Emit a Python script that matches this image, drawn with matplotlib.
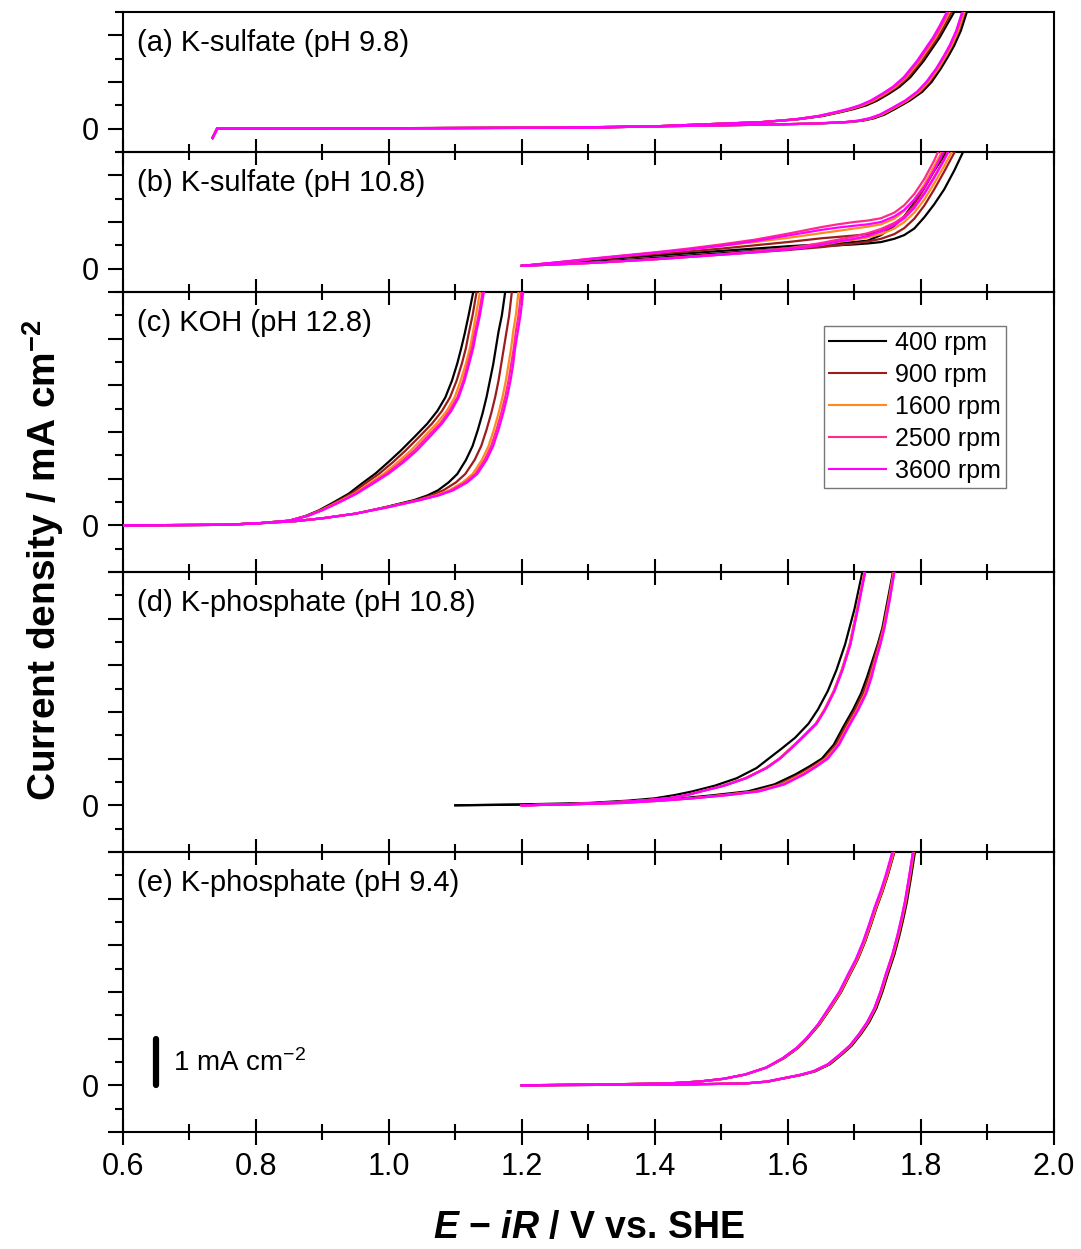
import matplotlib
matplotlib.use("Agg")
import matplotlib.pyplot as plt
from matplotlib.ticker import MultipleLocator, FuncFormatter

plt.rcParams['font.family'] = ['Liberation Sans', 'DejaVu Sans']
plt.rcParams['mathtext.fontset'] = 'custom'
plt.rcParams['mathtext.default'] = 'regular'
plt.rcParams['mathtext.it'] = 'Liberation Sans:italic:bold'

rpm = [400, 900, 1600, 2500, 3600]
colors = ['#000000', '#9b1c1c', '#ff8a1e', '#ff2a8a', '#ff00ff']

titles = ['(a) K-sulfate (pH 9.8)', '(b) K-sulfate (pH 10.8)', '(c) KOH (pH 12.8)',
          '(d) K-phosphate (pH 10.8)', '(e) K-phosphate (pH 9.4)']
ylims = [(-0.5, 2.5), (-0.5, 2.5), (-1, 5), (-1, 5), (-1, 5)]

# Sweep branches. Rows are rotation rates in rpm order (400 ... 3600).
# Panels a, c, d, e: shared current levels j (mA cm-2), potential E (V) per rate.
# Panel b: shared potential grid, current per rate.

# (a) K-sulfate, pH 9.8
a_left_j = [-0.2, 0.0, 0.02, 0.05, 0.09, 0.14, 0.2, 0.27, 0.35, 0.42, 0.5, 0.6,
            0.75, 0.9, 1.1, 1.45, 1.7, 1.95, 2.2, 2.5]
a_left_E = [
    [0.735, 0.742, 1.30, 1.40, 1.47, 1.562, 1.615, 1.652, 1.678, 1.699, 1.718, 1.734,
     1.752, 1.768, 1.784, 1.804, 1.816, 1.828, 1.838, 1.850],
    [0.735, 0.742, 1.30, 1.40, 1.47, 1.561, 1.613, 1.650, 1.676, 1.696, 1.714, 1.731,
     1.749, 1.765, 1.781, 1.801, 1.813, 1.825, 1.835, 1.846],
    [0.735, 0.742, 1.30, 1.40, 1.47, 1.560, 1.612, 1.648, 1.674, 1.694, 1.712, 1.728,
     1.746, 1.762, 1.778, 1.798, 1.810, 1.822, 1.832, 1.843],
    [0.735, 0.742, 1.30, 1.40, 1.47, 1.560, 1.611, 1.646, 1.672, 1.692, 1.710, 1.726,
     1.744, 1.760, 1.776, 1.796, 1.808, 1.820, 1.830, 1.841],
    [0.735, 0.742, 1.30, 1.40, 1.47, 1.560, 1.610, 1.645, 1.670, 1.690, 1.708, 1.724,
     1.742, 1.758, 1.774, 1.794, 1.806, 1.818, 1.828, 1.839],
]
a_right_j = [-0.2, 0.0, 0.02, 0.06, 0.09, 0.11, 0.14, 0.17, 0.22, 0.3, 0.43, 0.6,
             0.79, 1.0, 1.29, 1.55, 1.78, 2.1, 2.5]
a_right_E = [
    [0.735, 0.742, 1.25, 1.45, 1.58, 1.645, 1.690, 1.712, 1.729, 1.745, 1.762, 1.783,
     1.802, 1.816, 1.830, 1.841, 1.850, 1.860, 1.869],
    [0.735, 0.742, 1.25, 1.45, 1.58, 1.643, 1.688, 1.709, 1.726, 1.742, 1.759, 1.780,
     1.799, 1.813, 1.827, 1.838, 1.847, 1.857, 1.866],
    [0.735, 0.742, 1.25, 1.45, 1.58, 1.642, 1.687, 1.708, 1.725, 1.741, 1.758, 1.779,
     1.797, 1.811, 1.826, 1.837, 1.846, 1.856, 1.865],
    [0.735, 0.742, 1.25, 1.45, 1.58, 1.641, 1.686, 1.706, 1.723, 1.739, 1.756, 1.777,
     1.795, 1.809, 1.824, 1.835, 1.844, 1.854, 1.863],
    [0.735, 0.742, 1.25, 1.45, 1.58, 1.640, 1.685, 1.705, 1.722, 1.738, 1.755, 1.776,
     1.794, 1.808, 1.823, 1.834, 1.843, 1.853, 1.862],
]

# (b) K-sulfate, pH 10.8
b_E = [1.20, 1.25, 1.30, 1.35, 1.40, 1.45, 1.50, 1.55, 1.60, 1.625, 1.65, 1.675,
       1.70, 1.72, 1.74, 1.76, 1.775, 1.79, 1.805, 1.82, 1.835, 1.85, 1.865]
b_left_j = [
    [0.06, 0.12, 0.18, 0.23, 0.28, 0.33, 0.38, 0.43, 0.48, 0.50, 0.52, 0.55,
     0.57, 0.60, 0.72, 0.92, 1.12, 1.42, 1.75, 2.10, 2.42, 2.80, 3.20],
    [0.06, 0.12, 0.19, 0.25, 0.31, 0.37, 0.43, 0.50, 0.57, 0.61, 0.65, 0.68,
     0.71, 0.74, 0.80, 0.95, 1.12, 1.38, 1.72, 2.10, 2.50, 2.90, 3.30],
    [0.06, 0.13, 0.20, 0.27, 0.34, 0.41, 0.49, 0.57, 0.66, 0.71, 0.76, 0.81,
     0.86, 0.90, 0.95, 1.07, 1.24, 1.48, 1.80, 2.20, 2.60, 3.00, 3.50],
    [0.06, 0.13, 0.21, 0.28, 0.35, 0.43, 0.52, 0.62, 0.75, 0.82, 0.89, 0.95,
     1.00, 1.03, 1.08, 1.20, 1.36, 1.60, 1.92, 2.32, 2.80, 3.30, 3.80],
    [0.06, 0.13, 0.20, 0.27, 0.34, 0.41, 0.49, 0.59, 0.71, 0.77, 0.83, 0.88,
     0.92, 0.95, 1.00, 1.12, 1.26, 1.48, 1.75, 2.12, 2.55, 3.10, 3.60],
]
b_right_j = [
    [0.06, 0.10, 0.14, 0.18, 0.23, 0.28, 0.33, 0.38, 0.43, 0.46, 0.48, 0.50,
     0.52, 0.54, 0.57, 0.64, 0.72, 0.86, 1.10, 1.38, 1.70, 2.10, 2.55],
    [0.06, 0.09, 0.12, 0.16, 0.20, 0.25, 0.30, 0.35, 0.40, 0.43, 0.46, 0.50,
     0.54, 0.58, 0.64, 0.74, 0.87, 1.07, 1.35, 1.70, 2.08, 2.48, 2.90],
    [0.06, 0.09, 0.12, 0.16, 0.20, 0.25, 0.30, 0.36, 0.42, 0.46, 0.51, 0.57,
     0.62, 0.67, 0.74, 0.86, 1.00, 1.20, 1.48, 1.83, 2.20, 2.60, 3.05],
    [0.06, 0.09, 0.12, 0.16, 0.21, 0.26, 0.31, 0.37, 0.44, 0.49, 0.55, 0.62,
     0.69, 0.76, 0.85, 0.98, 1.12, 1.33, 1.62, 1.97, 2.35, 2.78, 3.20],
    [0.06, 0.09, 0.12, 0.16, 0.20, 0.25, 0.30, 0.35, 0.41, 0.45, 0.51, 0.58,
     0.64, 0.70, 0.80, 0.93, 1.08, 1.30, 1.60, 1.95, 2.33, 2.75, 3.20],
]

# (c) KOH, pH 12.8
c_left_j = [0, 0.01, 0.04, 0.1, 0.2, 0.32, 0.5, 0.68, 0.9, 1.11, 1.35, 1.6, 1.9,
            2.18, 2.45, 2.74, 3.1, 3.47, 3.8, 4.1, 4.5, 5.0]
c_left_E = [
    [0.6, 0.75, 0.8, 0.850, 0.875, 0.895, 0.918, 0.940, 0.960, 0.980, 0.999, 1.018,
     1.039, 1.058, 1.073, 1.085, 1.095, 1.103, 1.109, 1.114, 1.120, 1.127],
    [0.6, 0.75, 0.8, 0.851, 0.876, 0.897, 0.921, 0.944, 0.965, 0.986, 1.006, 1.025,
     1.046, 1.065, 1.080, 1.092, 1.102, 1.110, 1.116, 1.120, 1.126, 1.132],
    [0.6, 0.75, 0.8, 0.851, 0.877, 0.898, 0.924, 0.948, 0.971, 0.993, 1.013, 1.033,
     1.053, 1.072, 1.087, 1.099, 1.108, 1.116, 1.122, 1.126, 1.131, 1.137],
    [0.6, 0.75, 0.8, 0.851, 0.878, 0.899, 0.926, 0.950, 0.974, 0.997, 1.018, 1.038,
     1.058, 1.077, 1.091, 1.103, 1.112, 1.119, 1.125, 1.129, 1.135, 1.141],
    [0.6, 0.75, 0.8, 0.851, 0.878, 0.900, 0.927, 0.952, 0.977, 1.000, 1.022, 1.042,
     1.062, 1.080, 1.094, 1.105, 1.114, 1.121, 1.127, 1.131, 1.137, 1.143],
]
c_right_j = [0, 0.01, 0.04, 0.09, 0.15, 0.25, 0.39, 0.54, 0.64, 0.75, 0.92, 1.1,
             1.4, 1.7, 2.05, 2.4, 2.75, 3.1, 3.45, 3.8, 4.15, 4.5, 5.0]
c_right_E = [
    [0.6, 0.75, 0.8, 0.86, 0.9, 0.95, 0.995, 1.038, 1.058, 1.074, 1.090, 1.103,
     1.116, 1.126, 1.134, 1.141, 1.147, 1.152, 1.157, 1.161, 1.165, 1.170, 1.175],
    [0.6, 0.75, 0.8, 0.86, 0.9, 0.95, 0.997, 1.042, 1.064, 1.082, 1.101, 1.115,
     1.129, 1.139, 1.147, 1.154, 1.160, 1.165, 1.169, 1.173, 1.177, 1.181, 1.185],
    [0.6, 0.75, 0.8, 0.86, 0.9, 0.95, 0.998, 1.045, 1.070, 1.091, 1.111, 1.126,
     1.140, 1.150, 1.158, 1.165, 1.171, 1.176, 1.180, 1.184, 1.187, 1.191, 1.195],
    [0.6, 0.75, 0.8, 0.86, 0.9, 0.95, 0.999, 1.046, 1.073, 1.094, 1.115, 1.130,
     1.144, 1.154, 1.162, 1.169, 1.175, 1.180, 1.184, 1.188, 1.191, 1.195, 1.199],
    [0.6, 0.75, 0.8, 0.86, 0.9, 0.95, 1.000, 1.047, 1.075, 1.097, 1.118, 1.133,
     1.147, 1.157, 1.165, 1.172, 1.178, 1.183, 1.187, 1.190, 1.194, 1.198, 1.202],
]

# (d) K-phosphate, pH 10.8
d_left_j = [0, 0.02, 0.05, 0.1, 0.15, 0.22, 0.3, 0.42, 0.58, 0.8, 1.0, 1.22, 1.45,
            1.75, 2.05, 2.45, 2.9, 3.45, 4.2, 5.0]
d_left_E = [
    [1.1, 1.20, 1.30, 1.36, 1.40, 1.43, 1.457, 1.490, 1.523, 1.553, 1.571, 1.591,
     1.611, 1.631, 1.645, 1.660, 1.673, 1.686, 1.700, 1.712],
    [1.2, 1.26, 1.32, 1.38, 1.42, 1.448, 1.469, 1.503, 1.536, 1.567, 1.587, 1.604,
     1.621, 1.642, 1.655, 1.669, 1.681, 1.693, 1.704, 1.716],
    [1.2, 1.26, 1.32, 1.38, 1.42, 1.448, 1.469, 1.503, 1.536, 1.567, 1.587, 1.604,
     1.621, 1.642, 1.655, 1.669, 1.681, 1.693, 1.704, 1.715],
    [1.2, 1.26, 1.32, 1.38, 1.42, 1.448, 1.470, 1.504, 1.537, 1.568, 1.588, 1.605,
     1.622, 1.643, 1.656, 1.670, 1.682, 1.694, 1.705, 1.716],
    [1.2, 1.26, 1.32, 1.38, 1.42, 1.448, 1.470, 1.504, 1.537, 1.568, 1.588, 1.605,
     1.622, 1.643, 1.656, 1.670, 1.682, 1.694, 1.705, 1.716],
]
d_right_j = [0, 0.02, 0.05, 0.1, 0.15, 0.22, 0.3, 0.45, 0.66, 0.83, 1.0, 1.3, 1.7,
             2.05, 2.4, 2.75, 3.1, 3.45, 3.8, 4.4, 5.0]
d_right_E = [
    [1.1, 1.25, 1.33, 1.39, 1.44, 1.49, 1.540, 1.580, 1.611, 1.632, 1.651, 1.669,
     1.684, 1.698, 1.710, 1.719, 1.727, 1.735, 1.742, 1.750, 1.758],
    [1.2, 1.27, 1.34, 1.40, 1.45, 1.50, 1.550, 1.588, 1.617, 1.637, 1.655, 1.672,
     1.687, 1.701, 1.713, 1.722, 1.729, 1.736, 1.743, 1.751, 1.759],
    [1.2, 1.27, 1.35, 1.41, 1.455, 1.505, 1.553, 1.591, 1.620, 1.640, 1.657, 1.675,
     1.690, 1.704, 1.716, 1.724, 1.731, 1.738, 1.744, 1.752, 1.759],
    [1.2, 1.27, 1.35, 1.41, 1.457, 1.51, 1.556, 1.594, 1.623, 1.642, 1.659, 1.676,
     1.691, 1.705, 1.717, 1.725, 1.732, 1.739, 1.745, 1.753, 1.760],
    [1.2, 1.27, 1.35, 1.41, 1.457, 1.51, 1.557, 1.595, 1.624, 1.643, 1.660, 1.677,
     1.692, 1.706, 1.718, 1.726, 1.732, 1.739, 1.745, 1.753, 1.760],
]

# (e) K-phosphate, pH 9.4
e_left_j = [0, 0.02, 0.04, 0.08, 0.14, 0.23, 0.38, 0.58, 0.8, 1.0, 1.3, 1.65, 2.0,
            2.37, 2.7, 3.08, 3.45, 3.8, 4.15, 4.5, 5.0]
e_left_E = [
    [1.2, 1.33, 1.42, 1.467, 1.504, 1.536, 1.568, 1.594, 1.615, 1.629, 1.647, 1.664,
     1.680, 1.693, 1.705, 1.716, 1.725, 1.733, 1.742, 1.750, 1.760],
    [1.2, 1.33, 1.42, 1.467, 1.504, 1.536, 1.568, 1.594, 1.615, 1.629, 1.647, 1.664,
     1.680, 1.693, 1.705, 1.716, 1.725, 1.733, 1.742, 1.750, 1.760],
    [1.2, 1.33, 1.42, 1.467, 1.504, 1.536, 1.568, 1.593, 1.614, 1.628, 1.646, 1.663,
     1.679, 1.692, 1.704, 1.715, 1.724, 1.732, 1.741, 1.749, 1.759],
    [1.2, 1.33, 1.42, 1.466, 1.503, 1.535, 1.567, 1.592, 1.613, 1.628, 1.645, 1.662,
     1.678, 1.691, 1.703, 1.714, 1.723, 1.731, 1.740, 1.748, 1.758],
    [1.2, 1.33, 1.42, 1.466, 1.503, 1.535, 1.567, 1.592, 1.613, 1.627, 1.645, 1.661,
     1.677, 1.690, 1.702, 1.713, 1.722, 1.730, 1.739, 1.747, 1.757],
]
e_right_j = [0, 0.02, 0.04, 0.08, 0.15, 0.22, 0.3, 0.45, 0.66, 0.85, 1.1, 1.35,
             1.65, 2.0, 2.37, 2.8, 3.23, 3.6, 3.94, 4.45, 5.0]
e_right_E = [
    [1.2, 1.45, 1.537, 1.570, 1.595, 1.620, 1.641, 1.663, 1.681, 1.696, 1.710, 1.722,
     1.733, 1.742, 1.750, 1.760, 1.768, 1.774, 1.779, 1.785, 1.791],
    [1.2, 1.45, 1.537, 1.570, 1.594, 1.619, 1.640, 1.662, 1.680, 1.695, 1.709, 1.721,
     1.732, 1.741, 1.749, 1.759, 1.767, 1.773, 1.778, 1.784, 1.790],
    [1.2, 1.45, 1.536, 1.569, 1.593, 1.618, 1.639, 1.661, 1.679, 1.694, 1.708, 1.720,
     1.731, 1.740, 1.748, 1.758, 1.766, 1.772, 1.777, 1.783, 1.789],
    [1.2, 1.45, 1.535, 1.568, 1.592, 1.617, 1.638, 1.660, 1.678, 1.693, 1.707, 1.719,
     1.730, 1.739, 1.747, 1.757, 1.765, 1.771, 1.776, 1.782, 1.788],
    [1.2, 1.45, 1.535, 1.568, 1.592, 1.617, 1.638, 1.660, 1.678, 1.693, 1.707, 1.719,
     1.730, 1.739, 1.747, 1.757, 1.765, 1.771, 1.776, 1.782, 1.788],
]

# (E, j) per branch; a nested list holds one row per rotation rate
branches = [
    [(a_left_E, a_left_j), (a_right_E, a_right_j)],
    [(b_E, b_left_j), (b_E, b_right_j)],
    [(c_left_E, c_left_j), (c_right_E, c_right_j)],
    [(d_left_E, d_left_j), (d_right_E, d_right_j)],
    [(e_left_E, e_left_j), (e_right_E, e_right_j)],
]


def pick(values, i):
    return values[i] if isinstance(values[0], list) else values


fig = plt.figure(figsize=(10.81, 12.49), dpi=100)
gs = fig.add_gridspec(5, 1, height_ratios=[3, 3, 6, 6, 6], hspace=0,
                      left=0.1135, right=0.975, top=0.9904, bottom=0.0937)

zero_only = FuncFormatter(lambda v, p: '0' if abs(v) < 1e-9 else '')

axes = []
for k in range(5):
    ax = fig.add_subplot(gs[k], sharex=axes[0] if axes else None)
    axes.append(ax)
    ax.patch.set_visible(False)
    for (Es, js) in branches[k]:
        for i in range(len(rpm)):
            ax.plot(pick(Es, i), pick(js, i), color=colors[i], lw=1.6,
                    zorder=2 + i, solid_joinstyle='round')
    ax.set_xlim(0.6, 2.0)
    ax.set_ylim(*ylims[k])
    for s in ax.spines.values():
        s.set_linewidth(1.5)
    ax.xaxis.set_major_locator(MultipleLocator(0.2))
    ax.xaxis.set_minor_locator(MultipleLocator(0.1))
    ax.yaxis.set_major_locator(MultipleLocator(1))
    ax.yaxis.set_minor_locator(MultipleLocator(0.5))
    ax.yaxis.set_major_formatter(zero_only)
    ax.tick_params(axis='x', which='major', direction='inout', length=19, width=1.5,
                   top=False, labelsize=22, pad=5)
    ax.tick_params(axis='x', which='minor', direction='inout', length=11, width=1.5, top=False)
    ax.tick_params(axis='y', which='major', direction='out', length=11, width=1.5,
                   right=False, labelsize=22, pad=6)
    ax.tick_params(axis='y', which='minor', direction='out', length=6, width=1.5, right=False)
    if k < 4:
        ax.tick_params(axis='x', labelbottom=False)
    ax.annotate(titles[k], xy=(0, 1), xycoords='axes fraction', xytext=(14, -31),
                textcoords='offset pixels', fontsize=21, va='center', ha='left')

axes[-1].xaxis.set_major_formatter(FuncFormatter(lambda v, p: f'{v:.1f}'))

# legend in panel (c)
handles = [plt.Line2D([], [], color=c, lw=1.5) for c in colors]
leg = axes[2].legend(handles, [f'{r} rpm' for r in rpm], loc='upper left',
                     bbox_to_anchor=(0.753, 0.879), borderaxespad=0, fontsize=18,
                     frameon=True, fancybox=False, edgecolor='#555555',
                     handlelength=2.3, handletextpad=0.35, labelspacing=0.32,
                     borderpad=0.2)
leg.get_frame().set_linewidth(1.0)

# 1 mA cm-2 scale bar in panel (e)
axes[4].plot([0.65, 0.65], [0, 1], color='black', lw=4.5, solid_capstyle='round')
axes[4].text(0.676, 0.47, '1 mA cm$^{-2}$', fontsize=20, va='center', ha='left')

fig.text(43 / 1081, 1 - 560 / 1249, 'Current density / mA cm$^{-2}$', rotation=90,
         ha='center', va='center', fontsize=28, fontweight='bold')
fig.text(589 / 1081, 1 - 1228 / 1249, r'$\mathit{E}$ − $\mathit{iR}$ / V vs. SHE',
         ha='center', va='center', fontsize=27, fontweight='bold')

fig.savefig('out.png', dpi=100, facecolor='white')
